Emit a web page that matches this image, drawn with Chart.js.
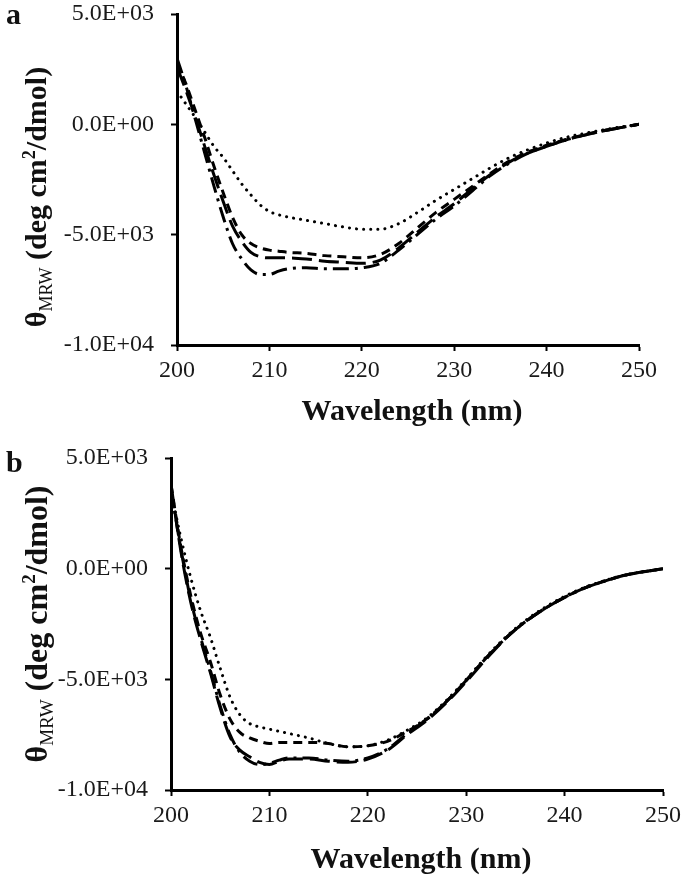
<!DOCTYPE html>
<html>
<head>
<meta charset="utf-8">
<script src="https://cdn.jsdelivr.net/npm/chart.js@4.4.1/dist/chart.umd.min.js"></script>
<style>
  html, body { margin:0; padding:0; background:#fff; }
  #wrap { position:relative; width:685px; height:876px; }
  canvas { position:absolute; left:0; }
</style>
</head>
<body>
<div id="wrap">
  <canvas id="panelA" width="685" height="438" style="top:0"></canvas>
  <canvas id="panelB" width="685" height="438" style="top:438px"></canvas>
</div>
<script>
/* CD spectra, two panels: θMRW vs wavelength, 4 samples each */

const WAVELENGTH = [200,201,202,203,204,205,206,207,208,209,210,211,212,214,216,218,220,222,224,226,228,230,232,234,236,238,240,242,244,246,248,250];

// panel a
const A_DOTTED   = [1500,900,300,-350,-1000,-1500,-2100,-2700,-3200,-3650,-3950,-4100,-4200,-4350,-4500,-4650,-4750,-4750,-4500,-4000,-3450,-2950,-2450,-1950,-1500,-1150,-850,-600,-420,-260,-120,0];
const A_DASH     = [2800,1800,600,-600,-1900,-3100,-4200,-5000,-5400,-5600,-5700,-5750,-5800,-5850,-5950,-6000,-6050,-5900,-5400,-4700,-4000,-3400,-2800,-2200,-1650,-1250,-950,-700,-480,-300,-150,0];
const A_LONGDASH = [2600,1500,300,-1000,-2300,-3500,-4600,-5300,-5800,-6000,-6050,-6050,-6050,-6100,-6200,-6250,-6300,-6150,-5600,-4900,-4200,-3600,-2900,-2250,-1700,-1300,-1000,-720,-500,-310,-150,0];
const A_DASHDOT  = [3000,1700,200,-1300,-2800,-4200,-5400,-6100,-6600,-6800,-6800,-6650,-6550,-6500,-6550,-6550,-6500,-6300,-5700,-5000,-4300,-3700,-3000,-2300,-1750,-1300,-1000,-720,-500,-300,-150,0];

// panel b
const B_DOTTED   = [3500,1400,-400,-1900,-3100,-4500,-5800,-6600,-7000,-7150,-7250,-7350,-7450,-7650,-7900,-8050,-8000,-7750,-7300,-6750,-5950,-5000,-4000,-3100,-2350,-1750,-1250,-850,-550,-300,-130,0];
const B_DASH     = [3800,1000,-1200,-2900,-4200,-5700,-6800,-7400,-7650,-7800,-7900,-7850,-7850,-7850,-7900,-8050,-8000,-7800,-7350,-6800,-6000,-5050,-4050,-3150,-2400,-1800,-1300,-880,-570,-310,-140,0];
const B_LONGDASH = [3800,800,-1500,-3200,-4700,-6300,-7600,-8200,-8500,-8750,-8850,-8700,-8600,-8600,-8700,-8750,-8600,-8200,-7500,-6850,-6050,-5100,-4100,-3150,-2400,-1800,-1300,-880,-570,-310,-140,0];
const B_DASHDOT  = [3600,900,-1400,-3100,-4600,-6200,-7500,-8300,-8700,-8850,-8800,-8650,-8550,-8550,-8650,-8700,-8550,-8150,-7450,-6800,-6000,-5050,-4050,-3150,-2400,-1800,-1300,-880,-570,-310,-140,0];

const X_TICKS = [200,210,220,230,240,250];
const Y_TICKS = [5000,0,-5000,-10000];
const Y_TICK_LABELS = ["5.0E+03","0.0E+00","-5.0E+03","-1.0E+04"];
const X_TITLE = "Wavelength (nm)";

const SERIF = "'Liberation Serif','Times New Roman',serif";
const LINE_STYLES = [
  { dash:[0.1,7],      cap:"round" },   // dotted
  { dash:[9,6],        cap:"butt"  },   // dashed
  { dash:[20,7],       cap:"butt"  },   // long dash
  { dash:[16,6,3,6],   cap:"butt"  }    // dash-dot
];

// panel letter, x title, rotated y title with sub/superscript
const titlePlugin = {
  id:"cdTitles",
  afterDraw(chart, args, p){
    const { ctx, chartArea:ca } = chart;
    ctx.save();
    ctx.fillStyle = "#111";
    ctx.textBaseline = "alphabetic";
    ctx.font = "bold 30px " + SERIF;
    ctx.textAlign = "left";
    ctx.fillText(p.letter, 6, p.letterY);
    ctx.textAlign = "center";
    ctx.fillText(X_TITLE, (ca.left + ca.right)/2 + 4, p.xTitleY);

    const big = "bold " + p.yFont + "px " + SERIF;
    const small = Math.round(p.yFont*0.6) + "px " + SERIF;
    const parts = [
      { t:"θ", f:big, dy:0 },
      { t:"MRW", f:small, dy:p.yFont*0.2 },
      { t:" (deg cm", f:big, dy:0 },
      { t:"2", f:"bold " + small, dy:-p.yFont*0.38 },
      { t:"/dmol)", f:big, dy:0 }
    ];
    let total = 0;
    parts.forEach(s => { ctx.font = s.f; s.w = ctx.measureText(s.t).width; total += s.w; });
    ctx.translate(p.yTitleX, p.yTitleY);
    ctx.rotate(-Math.PI/2);
    ctx.textAlign = "left";
    let x = -total/2;
    parts.forEach(s => { ctx.font = s.f; ctx.fillText(s.t, x, s.dy); x += s.w; });
    ctx.restore();
  }
};

function makePanel(id, panel, series){
  const H = 438;
  return new Chart(document.getElementById(id), {
    type:"line",
    data:{
      datasets: series.map((vals, i) => ({
        data: WAVELENGTH.map((w, j) => ({ x:w, y:vals[j] })),
        borderColor:"#000", borderWidth:3,
        borderDash: LINE_STYLES[i].dash, borderCapStyle: LINE_STYLES[i].cap,
        pointRadius:0, fill:false, cubicInterpolationMode:"monotone"
      }))
    },
    options:{
      responsive:false, animation:false, events:[],
      layout:{ padding:{ top:panel.top, right:685 - panel.right, left:0, bottom:0 } },
      plugins:{ legend:{ display:false }, tooltip:{ enabled:false }, cdTitles:panel },
      scales:{
        x:{
          type:"linear", min:200, max:250,
          afterFit: s => { s.height = H - panel.bottom; s.paddingLeft = 0; s.paddingRight = 0; },
          afterBuildTicks: s => { s.ticks = X_TICKS.map(v => ({ value:v })); },
          grid:{ drawOnChartArea:false, tickLength:6, tickWidth:2, tickColor:"#000" },
          border:{ display:true, color:"#000", width:3 },
          ticks:{ font:{ family:SERIF, size:24 }, color:"#1a1a1a", padding:5, maxRotation:0, autoSkip:false }
        },
        y:{
          type:"linear", min:-10000, max:5000,
          afterFit: s => { s.width = panel.left; s.paddingTop = 0; s.paddingBottom = 0; },
          afterBuildTicks: s => { s.ticks = Y_TICKS.map(v => ({ value:v })); },
          grid:{ drawOnChartArea:false, tickLength:6, tickWidth:2, tickColor:"#000" },
          border:{ display:true, color:"#000", width:3 },
          ticks:{ font:{ family:SERIF, size:24 }, color:"#1a1a1a", padding:17,
            callback: v => { const k = Y_TICKS.indexOf(v); return k >= 0 ? Y_TICK_LABELS[k] : ""; } }
        }
      }
    },
    plugins:[titlePlugin]
  });
}

makePanel("panelA",
  { left:177, right:639, top:14, bottom:345, letter:"a", letterY:24, xTitleY:420, yTitleX:46, yTitleY:197, yFont:30 },
  [A_DOTTED, A_DASH, A_LONGDASH, A_DASHDOT]);
makePanel("panelB",
  { left:171, right:663, top:20, bottom:352, letter:"b", letterY:34, xTitleY:430, yTitleX:47, yTitleY:186, yFont:32 },
  [B_DOTTED, B_DASH, B_LONGDASH, B_DASHDOT]);
</script>
</body>
</html>
